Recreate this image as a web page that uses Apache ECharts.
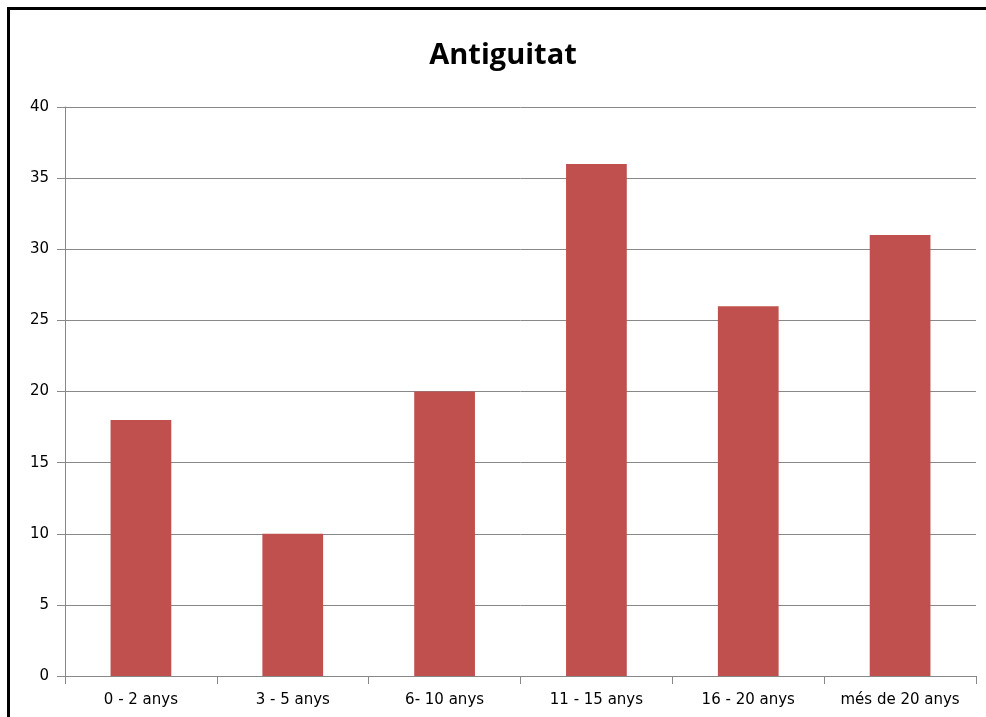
<!DOCTYPE html>
<html>
<head>
<meta charset="utf-8">
<script src="https://cdn.jsdelivr.net/npm/echarts@6/dist/echarts.min.js"></script>
<style>
  html, body { margin: 0; padding: 0; background: #fff; }
  #chart { width: 986px; height: 717px; }
</style>
</head>
<body>
<div id="chart"></div>
<script>
// Years of seniority distribution
const categories = ['0 - 2 anys', '3 - 5 anys', '6- 10 anys', '11 - 15 anys', '16 - 20 anys', 'més de 20 anys'];
const values = [18, 10, 20, 36, 26, 31];
const yTicks = { min: 0, max: 40, interval: 5 };
const chartTitle = 'Antiguitat';

const chart = echarts.init(document.getElementById('chart'));
const gray = '#888888';
const labelFont = '"DejaVu Sans", sans-serif';

chart.setOption({
  animation: false,
  graphic: [{
    type: 'rect',
    shape: { x: 8.5, y: 8.5, width: 1000, height: 1000 },
    style: { fill: 'none', stroke: '#000', lineWidth: 3 },
    silent: true
  }, {
    type: 'text',
    x: 503,
    y: 56,
    style: {
      text: chartTitle,
      textAlign: 'center',
      textVerticalAlign: 'middle',
      fontFamily: '"Open Sans", sans-serif',
      fontWeight: 'bold',
      fontSize: 29,
      fill: '#000'
    },
    silent: true
  }],
  grid: { left: 65, right: 10, top: 107, bottom: 41 },
  xAxis: {
    type: 'category',
    data: categories,
    axisLine: { lineStyle: { color: gray, width: 1 } },
    axisTick: { show: true, interval: 0, length: 8, alignWithLabel: false, lineStyle: { color: gray } },
    axisLabel: { interval: 0, color: '#000', fontFamily: labelFont, fontSize: 15, margin: 17 }
  },
  yAxis: {
    type: 'value',
    min: yTicks.min,
    max: yTicks.max,
    interval: yTicks.interval,
    axisLine: { show: true, lineStyle: { color: gray, width: 1 } },
    axisTick: { show: true, length: 8, lineStyle: { color: gray } },
    splitLine: { lineStyle: { color: gray, width: 1 } },
    axisLabel: { color: '#000', fontFamily: labelFont, fontSize: 15, margin: 16 }
  },
  series: [{
    type: 'bar',
    data: values,
    barCategoryGap: '60%',
    itemStyle: { color: '#c0504d' }
  }]
});
</script>
</body>
</html>
